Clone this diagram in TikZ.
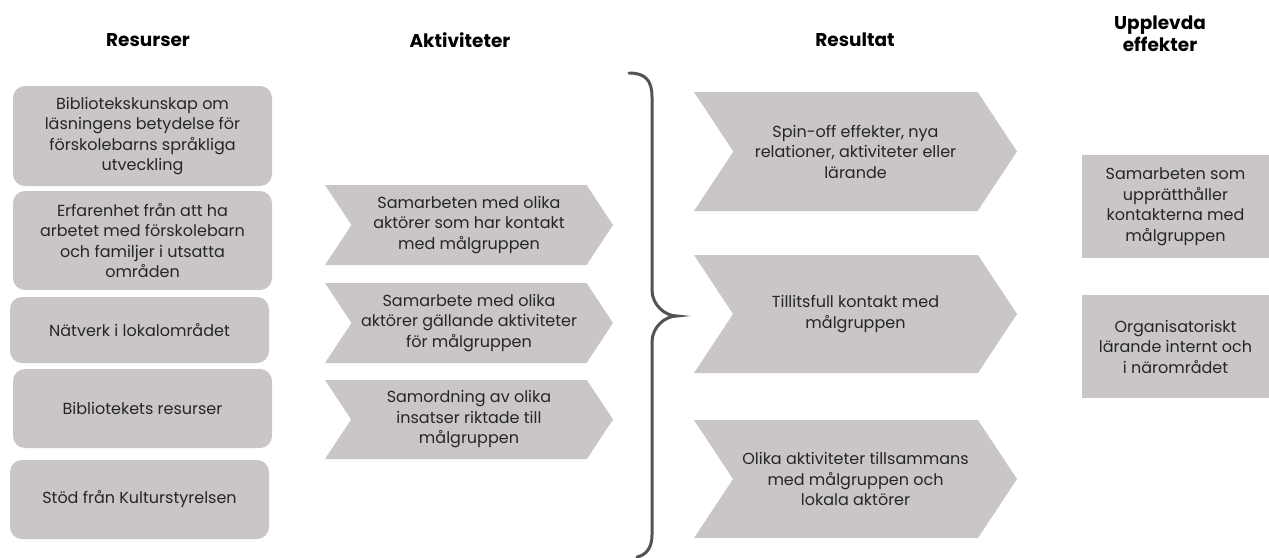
\documentclass[tikz,border=0pt]{standalone}
\usepackage{fontspec}
\setmainfont{Poppins}
\usetikzlibrary{shapes.symbols}
\definecolor{ljusgra}{RGB}{201,198,197}
\definecolor{texten}{RGB}{38,38,38}
\definecolor{klammer}{RGB}{80,83,88}
\begin{document}
\begin{tikzpicture}[x=1pt,y=-1pt,
        font=\fontsize{16}{20.5}\selectfont, text=texten,
        rubrik/.style={font=\fontsize{18.5}{22}\selectfont\bfseries, text=black, align=center},
        resbox/.style={fill=ljusgra, rounded corners=12pt, minimum width=259pt, align=center, inner sep=0pt},
        pil/.style={signal, signal from=west, signal to=east, signal pointer angle=113, fill=ljusgra, align=center, inner sep=0pt},
        effbox/.style={fill=ljusgra, minimum width=187pt, minimum height=103pt, align=center, inner sep=0pt}]
    \useasboundingbox (0,0) rectangle (1269,557);

    \node[rubrik] (hres) at (148,40) {Resurser};
    \node[rubrik] (hakt) at (460,40) {Aktiviteter};
    \node[rubrik] (hresult) at (855,40) {Resultat};
    \node[rubrik] (heff) at (1160,34) {Upplevda\\effekter};

    \node[resbox, minimum height=100pt] (res1) at (142.5,136) {Bibliotekskunskap om\\läsningens betydelse för\\förskolebarns språkliga\\utveckling};
    \node[resbox, minimum height=99pt] (res2) at (142.5,240.5) {Erfarenhet från att ha\\arbetet med förskolebarn\\och familjer i utsatta\\områden};
    \node[resbox, minimum height=66pt] (res3) at (139.5,330) {Nätverk i lokalområdet};
    \node[resbox, minimum height=79pt] (res4) at (142.5,408.5) {Bibliotekets resurser};
    \node[resbox, minimum height=79pt] (res5) at (139.5,499.5) {Stöd från Kulturstyrelsen};

    \node[pil, minimum width=288pt, minimum height=80pt] (akt1) at (469,225) {Samarbeten med olika\\aktörer som har kontakt\\med målgruppen};
    \node[pil, minimum width=288pt, minimum height=80pt] (akt2) at (469,323) {Samarbete med olika\\aktörer gällande aktiviteter\\för målgruppen};
    \node[pil, minimum width=288pt, minimum height=79pt] (akt3) at (469,419.5) {Samordning av olika\\insatser riktade till\\målgruppen};

    \draw[klammer, line width=3pt, line cap=round]
        (629,73) .. controls (645,73) and (652,80) .. (652,97) -- (652,290)
        .. controls (652,305) and (665,316) .. (677,316)
        .. controls (665,316) and (652,327) .. (652,342) -- (652,535)
        .. controls (652,548) and (646,555) .. (637,557);

    \node[pil, minimum width=323pt, minimum height=119pt] (ut1) at (855.5,151.5) {Spin-off effekter, nya\\relationer, aktiviteter eller\\lärande};
    \node[pil, minimum width=323pt, minimum height=118pt] (ut2) at (855.5,314) {Tillitsfull kontakt med\\målgruppen};
    \node[pil, minimum width=323pt, minimum height=118pt] (ut3) at (855.5,479) {Olika aktiviteter tillsammans\\med målgruppen och\\lokala aktörer};

    \node[effbox] (eff1) at (1175.5,206.5) {Samarbeten som\\upprätthåller\\kontakterna med\\målgruppen};
    \node[effbox] (eff2) at (1175.5,346.5) {Organisatoriskt\\lärande internt och\\i närområdet};
\end{tikzpicture}
\end{document}
